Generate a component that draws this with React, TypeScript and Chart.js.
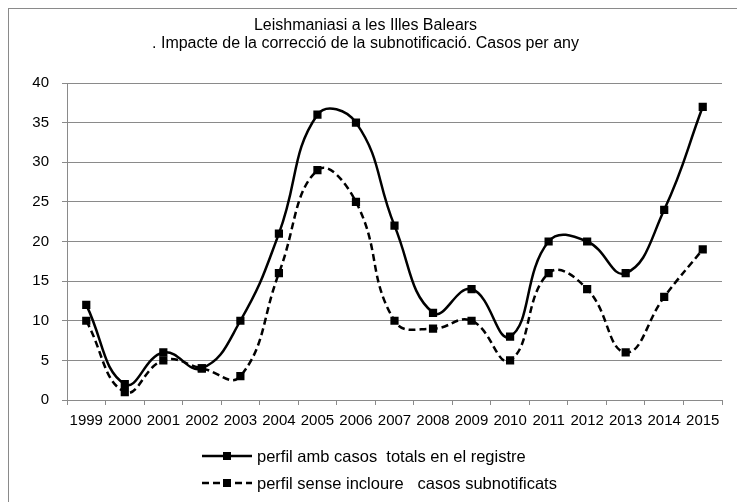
import React, { useEffect, useRef } from "react";
import { Chart, registerables } from "chart.js";

Chart.register(...registerables);

const years = ["1999","2000","2001","2002","2003","2004","2005","2006","2007","2008","2009","2010","2011","2012","2013","2014","2015"];
const totalCases = [12, 2, 6, 4, 10, 21, 36, 35, 22, 11, 14, 8, 20, 20, 16, 24, 37];
const withoutUnderreported = [10, 1, 5, 4, 3, 16, 29, 25, 10, 9, 10, 5, 16, 14, 6, 13, 19];
const seriesLabels = ["perfil amb casos  totals en el registre", "perfil sense incloure   casos subnotificats"];
const titleLines = ["Leishmaniasi a les Illes Balears", ". Impacte de la correcció de la subnotificació. Casos per any"];

const FONT = "'Liberation Sans', Arial, sans-serif";
const GRID = "#8a8a8a";

const legendPlugin = {
  id: "customLegend",
  afterDraw(chart: any) {
    const ctx = chart.ctx;
    const items = chart.data.datasets;
    const x0 = 193, x1 = 243, tx = 248;
    const ys = [447, 474];
    ctx.save();
    items.forEach((ds: any, i: number) => {
      const y = ys[i];
      ctx.strokeStyle = "#000";
      ctx.lineWidth = 2.5;
      ctx.setLineDash(ds.borderDash || []);
      ctx.beginPath();
      ctx.moveTo(x0, y);
      ctx.lineTo(x1, y);
      ctx.stroke();
      ctx.setLineDash([]);
      ctx.fillStyle = "#000";
      ctx.fillRect((x0 + x1) / 2 - 4, y - 4, 8, 8);
      ctx.font = `16.5px ${FONT}`;
      ctx.textBaseline = "middle";
      ctx.textAlign = "left";
      ctx.fillText(ds.label, tx, y + 1);
    });
    ctx.restore();
  },
};

export default function App() {
  const ref = useRef<HTMLCanvasElement | null>(null);
  useEffect(() => {
    if (!ref.current) return;
    const chart = new Chart(ref.current, {
      type: "line",
      data: {
        labels: years,
        datasets: [
          {
            label: seriesLabels[0],
            data: totalCases,
            borderColor: "#000",
            backgroundColor: "#000",
            borderWidth: 2.5,
            tension: 0.45,
            pointStyle: "rect",
            pointRadius: 5.8,
            pointBackgroundColor: "#000",
            pointBorderWidth: 0,
          },
          {
            label: seriesLabels[1],
            data: withoutUnderreported,
            borderColor: "#000",
            backgroundColor: "#000",
            borderWidth: 2.5,
            borderDash: [7, 4],
            tension: 0.45,
            pointStyle: "rect",
            pointRadius: 5.8,
            pointBackgroundColor: "#000",
            pointBorderWidth: 0,
          },
        ],
      },
      options: {
        animation: false,
        responsive: false,
        layout: { padding: { left: 0, right: 23, top: 0, bottom: 0 } },
        plugins: {
          legend: { display: false },
          tooltip: { enabled: false },
          title: {
            display: true,
            text: titleLines,
            color: "#000",
            font: { family: FONT, size: 16, weight: "normal", lineHeight: 1.125 },
            padding: { top: 8, bottom: 30 },
          },
        },
        scales: {
          x: {
            offset: true,
            grid: { offset: true, drawOnChartArea: false, drawTicks: true, tickLength: 5, color: GRID },
            border: { color: GRID, width: 1 },
            ticks: { color: "#000", font: { family: FONT, size: 15 }, padding: 7, maxRotation: 0, autoSkip: false },
            afterFit: (s: any) => { s.height = 103; },
          },
          y: {
            min: 0,
            max: 40,
            grid: { color: GRID, tickLength: 5, lineWidth: 1 },
            border: { color: GRID, width: 1 },
            ticks: { stepSize: 5, color: "#000", font: { family: FONT, size: 15 }, padding: 13 },
            afterFit: (s: any) => { s.width = 58; },
          },
        },
      },
      plugins: [legendPlugin],
    });
    return () => chart.destroy();
  }, []);
  return (
    <div style={{ width: 736, height: 494, borderLeft: "1px solid #8a8a8a", borderTop: "1px solid #8a8a8a", overflow: "hidden" }}>
      <canvas ref={ref} width={736} height={494} style={{ display: "block" }} />
    </div>
  );
}
